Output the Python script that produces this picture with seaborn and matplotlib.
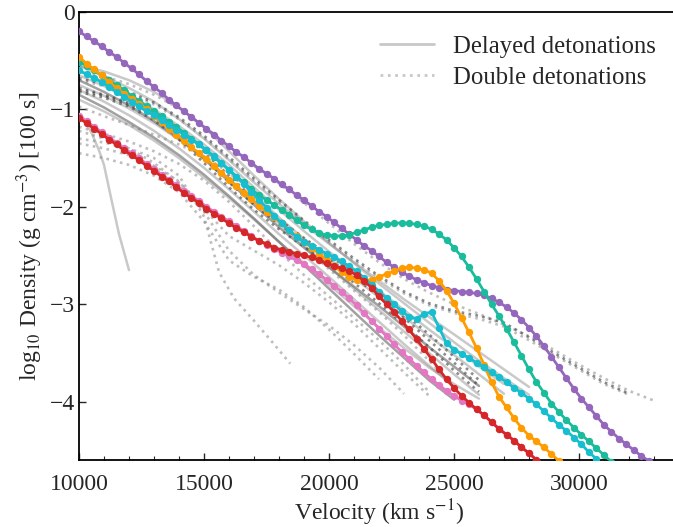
import numpy as np
import pandas as pd
import matplotlib
matplotlib.use("Agg")
import matplotlib.pyplot as plt
from matplotlib.lines import Line2D
from matplotlib.ticker import MultipleLocator
import seaborn as sns

# ---------------- data ----------------
# coloured models, sampled every 300 km/s from 10000 km/s
vel_grid = np.arange(10000, 34001, 300)

purple = [-0.20, -0.25, -0.30, -0.35, -0.41, -0.46, -0.52, -0.58, -0.64, -0.71,
          -0.77, -0.83, -0.90, -0.96, -1.02, -1.08, -1.14, -1.20, -1.26, -1.32,
          -1.38, -1.44, -1.49, -1.55, -1.61, -1.66, -1.71, -1.77, -1.82, -1.88,
          -1.93, -1.99, -2.05, -2.10, -2.16, -2.22, -2.28, -2.34, -2.40, -2.45,
          -2.51, -2.57, -2.62, -2.67, -2.71, -2.75, -2.78, -2.81, -2.83, -2.85,
          -2.86, -2.87, -2.88, -2.89, -2.91, -2.94, -2.98, -3.03, -3.09, -3.16,
          -3.24, -3.33, -3.43, -3.54, -3.65, -3.76, -3.87, -3.97, -4.06, -4.15,
          -4.24, -4.31, -4.38, -4.44, -4.50, -4.56, -4.61, -4.66]

teal = [-0.51, -0.55, -0.60, -0.65, -0.70, -0.75, -0.80, -0.86, -0.91, -0.97,
        -1.02, -1.07, -1.13, -1.18, -1.24, -1.30, -1.36, -1.42, -1.49, -1.55,
        -1.62, -1.69, -1.75, -1.82, -1.88, -1.93, -1.98, -2.03, -2.08, -2.14,
        -2.19, -2.23, -2.27, -2.29, -2.30, -2.30, -2.29, -2.26, -2.24, -2.21,
        -2.19, -2.18, -2.17, -2.165, -2.17, -2.18, -2.20, -2.23, -2.28, -2.34,
        -2.42, -2.51, -2.62, -2.74, -2.87, -3.00, -3.12, -3.25, -3.39, -3.53,
        -3.67, -3.80, -3.91, -4.02, -4.11, -4.19, -4.27, -4.34, -4.41, -4.48,
        -4.55, -4.62, -4.68]

orange = [-0.46, -0.53, -0.59, -0.65, -0.72, -0.78, -0.84, -0.89, -0.94, -1.00,
          -1.07, -1.13, -1.20, -1.26, -1.32, -1.39, -1.45, -1.51, -1.58, -1.65,
          -1.72, -1.79, -1.86, -1.92, -1.99, -2.05, -2.11, -2.17, -2.24, -2.30,
          -2.36, -2.42, -2.48, -2.55, -2.61, -2.67, -2.72, -2.75, -2.76, -2.75,
          -2.72, -2.69, -2.66, -2.63, -2.62, -2.63, -2.65, -2.68, -2.76, -2.86,
          -2.99, -3.14, -3.29, -3.45, -3.62, -3.80, -3.95, -4.06, -4.17, -4.27,
          -4.35, -4.41, -4.47, -4.54, -4.61, -4.67]

cyan = [-0.60, -0.64, -0.68, -0.72, -0.77, -0.82, -0.87, -0.92, -0.97, -1.02,
        -1.06, -1.11, -1.16, -1.21, -1.26, -1.31, -1.36, -1.42, -1.48, -1.55,
        -1.62, -1.69, -1.77, -1.85, -1.93, -2.01, -2.09, -2.17, -2.24, -2.31,
        -2.36, -2.40, -2.44, -2.48, -2.52, -2.56, -2.61, -2.66, -2.73, -2.80,
        -2.87, -2.94, -3.00, -3.07, -3.13, -3.15, -3.10, -3.08, -3.24, -3.40,
        -3.47, -3.51, -3.55, -3.60, -3.65, -3.70, -3.75, -3.80, -3.86, -3.91,
        -3.97, -4.03, -4.10, -4.17, -4.24, -4.30, -4.37, -4.44, -4.52, -4.59,
        -4.66]

pink = [-1.07, -1.12, -1.18, -1.23, -1.29, -1.34, -1.40, -1.45, -1.50, -1.56,
        -1.61, -1.67, -1.72, -1.78, -1.84, -1.89, -1.94, -2.00, -2.05, -2.10,
        -2.15, -2.20, -2.25, -2.30, -2.35, -2.39, -2.43, -2.47, -2.51, -2.55,
        -2.59, -2.64, -2.69, -2.75, -2.81, -2.87, -2.94, -3.01, -3.09, -3.17,
        -3.25, -3.33, -3.41, -3.49, -3.56, -3.63, -3.70, -3.77, -3.83, -3.89,
        -3.94, -3.99, -4.03, -4.08, -4.14, -4.21, -4.28, -4.34, -4.40, -4.47,
        -4.53, -4.60, -4.66]

red = [-1.09, -1.14, -1.20, -1.25, -1.31, -1.36, -1.42, -1.47, -1.52, -1.58,
       -1.63, -1.69, -1.74, -1.80, -1.86, -1.91, -1.96, -2.02, -2.07, -2.12,
       -2.17, -2.22, -2.26, -2.31, -2.35, -2.38, -2.42, -2.44, -2.46, -2.48,
       -2.50, -2.52, -2.55, -2.58, -2.61, -2.63, -2.66, -2.70, -2.76, -2.83,
       -2.92, -3.00, -3.08, -3.17, -3.26, -3.36, -3.46, -3.56, -3.67, -3.77,
       -3.86, -3.94, -4.01, -4.08, -4.14, -4.21, -4.28, -4.34, -4.40, -4.47,
       -4.53, -4.60, -4.66]

model_names = ["purple", "teal", "orange", "cyan", "pink", "red"]
model_colors = ["#9467bd", "#1abc9c", "#ff9c00", "#17becf", "#e377c2", "#d62728"]

# delayed detonations (solid grey), sampled every 1000 km/s from 10000 km/s
dd_1 = [-0.55, -0.66, -0.78, -0.92, -1.10, -1.30, -1.52, -1.75, -1.97, -2.18,
        -2.38, -2.57, -2.76, -2.95, -3.13, -3.31, -3.49, -3.67, -3.85]
dd_2 = [-0.60, -0.72, -0.85, -1.00, -1.17, -1.36, -1.57, -1.80, -2.03, -2.25,
        -2.46, -2.66, -2.86, -3.06, -3.26, -3.45, -3.64, -3.82]
dd_3 = [-0.65, -0.76, -0.89, -1.04, -1.21, -1.41, -1.63, -1.87, -2.11, -2.33,
        -2.53, -2.73, -2.93, -3.13, -3.33, -3.52, -3.72, -3.92]
dd_4 = [-0.70, -0.82, -0.96, -1.12, -1.30, -1.51, -1.74, -1.98, -2.21, -2.42,
        -2.62, -2.82, -3.02, -3.23, -3.44, -3.64, -3.84]
dd_5 = [-0.75, -0.86, -0.99, -1.14, -1.31, -1.50, -1.71, -1.94, -2.17, -2.40,
        -2.62, -2.84, -3.06, -3.28, -3.50, -3.72, -3.93]
dd_6 = [-0.55, -0.61, -0.70, -0.82, -0.98, -1.18, -1.43, -1.68, -1.92, -2.15,
        -2.37, -2.58, -2.79, -2.99, -3.19, -3.39, -3.58, -3.76, -3.93]
dd_7 = [-0.80, -0.92, -1.06, -1.22, -1.40, -1.60, -1.82, -2.05, -2.28, -2.50,
        -2.72, -2.95, -3.18, -3.41, -3.63, -3.85]
dd_8 = [-0.85, -0.98, -1.13, -1.29, -1.47, -1.67, -1.89, -2.12, -2.36, -2.60,
        -2.84, -3.08, -3.32, -3.55, -3.78, -3.98]
dd_9 = [-0.90, -1.02, -1.16, -1.32, -1.50, -1.70, -1.91, -2.13, -2.36, -2.58,
        -2.80, -3.02, -3.24, -3.45, -3.65, -3.82, -3.97]
# the short steep delayed-detonation model
dd_short_vel = [10150, 10500, 10800, 11000, 11300, 11600, 12000]
dd_short = [-1.08, -1.24, -1.42, -1.57, -1.93, -2.28, -2.65]

# double detonations (dotted grey), sampled every 1000 km/s from 10000 km/s
db_1 = [-0.60, -0.66, -0.74, -0.85, -0.99, -1.17, -1.38, -1.58, -1.76, -1.96,
        -2.17, -2.38, -2.57, -2.74, -2.88, -3.00, -3.10, -3.21, -3.33, -3.47,
        -3.62, -3.76, -3.89, -3.99]
db_2 = [-0.68, -0.74, -0.82, -0.93, -1.08, -1.27, -1.49, -1.71, -1.93, -2.14,
        -2.34, -2.53, -2.71, -2.87, -2.99, -3.07, -3.12, -3.19, -3.34, -3.50,
        -3.65, -3.80, -3.92]
db_3 = [-0.70, -0.76, -0.84, -0.95, -1.10, -1.29, -1.51, -1.73, -1.95, -2.16,
        -2.36, -2.55, -2.73, -2.89, -3.01, -3.09, -3.15, -3.23, -3.37, -3.52,
        -3.67, -3.82, -3.93]
db_4 = [-0.80, -0.86, -0.95, -1.08, -1.27, -1.50, -1.75, -1.98, -2.18, -2.36,
        -2.54, -2.72, -2.92, -3.14, -3.37, -3.60, -3.84]
db_5 = [-0.82, -0.88, -0.97, -1.11, -1.31, -1.55, -1.80, -2.03, -2.23, -2.41,
        -2.59, -2.78, -2.99, -3.21, -3.44, -3.68, -3.90]
db_6 = [-0.78, -0.85, -0.93, -1.05, -1.22, -1.44, -1.68, -1.92, -2.13, -2.32,
        -2.50, -2.68, -2.88, -3.09, -3.31, -3.54, -3.78]
db_7 = [-0.97, -1.07, -1.16, -1.26, -1.36, -1.48, -1.65, -1.88, -2.14, -2.40,
        -2.64, -2.86, -3.08, -3.32, -3.58, -3.84]
db_8 = [-1.18, -1.25, -1.33, -1.43, -1.56, -1.73, -1.95, -2.20, -2.46, -2.70,
        -2.92, -3.14, -3.37, -3.62, -3.90]
db_9 = [-1.45, -1.50, -1.57, -1.68, -1.85, -2.15, -2.55, -2.72, -2.85, -3.03,
        -3.26, -3.51, -3.77]
db_10 = [-1.35, -1.40, -1.47, -1.58, -1.74, -2.05, -2.45, -2.70, -2.88, -3.05,
         -3.22, -3.42, -3.65, -3.92]
db_11 = [-1.22, -1.30, -1.40, -1.55, -1.75, -2.02, -2.30, -2.45, -2.60, -2.78,
         -2.98, -3.20, -3.45, -3.70, -3.94]
db_arc_vel = [10000, 11000, 12000, 13000, 14000, 15000, 15600, 16200, 17000, 17700, 18450]
db_arc = [-1.30, -1.34, -1.40, -1.50, -1.68, -2.10, -2.67, -2.94, -3.17, -3.38, -3.61]

delayed_light = [dd_1, dd_2, dd_3, dd_5, dd_6, dd_7, dd_9]
delayed_dark = [dd_4, dd_8]
double_light = [db_1, db_3, db_7, db_8, db_9, db_10, db_11]
double_dark = [db_2, db_4, db_5, db_6]


def long_table(groups, prefix):
    rows = []
    for i, vals in enumerate(groups):
        vels = np.arange(10000, 10000 + 1000 * len(vals), 1000)
        for v, r in zip(vels, vals):
            rows.append(("%s%d" % (prefix, i), v, r))
    return pd.DataFrame(rows, columns=["model", "velocity", "logrho"])


df_dl = long_table(delayed_light, "dl")
df_dl = pd.concat([df_dl, pd.DataFrame({"model": "dshort", "velocity": dd_short_vel,
                                        "logrho": dd_short})], ignore_index=True)
df_dd = long_table(delayed_dark, "dd")
df_bl = long_table(double_light, "bl")
df_bl = pd.concat([df_bl, pd.DataFrame({"model": "barc", "velocity": db_arc_vel,
                                        "logrho": db_arc})], ignore_index=True)
df_bd = long_table(double_dark, "bd")

# ---------------- style ----------------
sns.set_style("ticks")
plt.rcParams["font.family"] = ["Liberation Serif", "DejaVu Serif"]
plt.rcParams["mathtext.fontset"] = "stix"
plt.rcParams["axes.unicode_minus"] = True
FS = 17

fig = plt.figure(figsize=(6.73, 5.27), dpi=100)
ax = fig.add_axes([79 / 673, 1 - 460 / 527, 600 / 673, 448 / 527])

common = dict(x="velocity", y="logrho", units="model", estimator=None,
              ax=ax, sort=False, legend=False)
sns.lineplot(data=df_dl, color="#7f7f7f", alpha=0.42, lw=1.8, **common)
sns.lineplot(data=df_dd, color="#555555", alpha=0.55, lw=1.8, **common)
sns.lineplot(data=df_bl, color="#7f7f7f", alpha=0.5, lw=1.9, ls=":", **common)
sns.lineplot(data=df_bd, color="#404040", alpha=0.6, lw=1.9, ls=":", **common)

series = [purple, teal, orange, cyan, pink, red]
for name, vals, col in zip(model_names, series, model_colors):
    sns.lineplot(x=vel_grid[:len(vals)], y=vals, color=col, lw=2.0,
                 marker="o", markersize=5.3, markeredgewidth=0, ax=ax,
                 sort=False, legend=False, zorder=5)

ax.set_xlim(10000, 34000)
ax.set_ylim(-4.6, 0)
ax.set_xticks([10000, 15000, 20000, 25000, 30000])
ax.set_yticks([0, -1, -2, -3, -4])
ax.xaxis.set_minor_locator(MultipleLocator(1000))
ax.tick_params(axis="both", which="both", direction="in", labelsize=FS,
               top=False, right=False)
ax.tick_params(axis="x", which="major", length=5, width=1, pad=10)
ax.tick_params(axis="x", which="minor", length=3, width=0.8)
ax.tick_params(axis="y", which="major", length=5, width=1, pad=3)
for s in ax.spines.values():
    s.set_linewidth(1.3)
    s.set_color("black")

ax.set_xlabel(r"Velocity (km s$^{-1}$)", fontsize=FS, labelpad=2)
ax.set_ylabel(r"log$_{10}$ Density (g cm$^{-3}$) [100 s]", fontsize=FS, labelpad=3)

handles = [Line2D([], [], color="#c8c8c8", lw=2, ls="-"),
           Line2D([], [], color="#c8c8c8", lw=2, ls=":")]
ax.legend(handles, ["Delayed detonations", "Double detonations"],
          loc="upper right", frameon=False, fontsize=17.8, handlelength=2.2,
          handletextpad=0.75, labelspacing=0.36, borderaxespad=0.55)

fig.savefig("out.png", dpi=100)
